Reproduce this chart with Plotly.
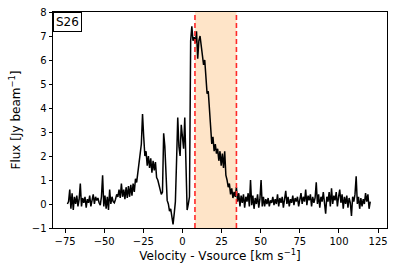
import numpy as np
import plotly.graph_objects as go

# Velocity channels (km/s)
v_start = -73.5
v_step = 0.75

# Flux values (Jy/beam)
flux_a = [0.0, 0.1, 0.6, -0.2, 0.45, -0.25, 0.3, 0.0, 0.35, -0.1,
          0.2, 0.85, -0.1, 0.25, 0.05, 0.3, -0.15, 0.2, 0.05, 0.35,
          -0.1, 0.25, 0.4, 0.0, 0.3, 0.15, 0.25, 0.05, -0.05, 0.3,
          1.2, -0.1, 0.35, -0.2, 0.3, -0.25, 0.6, 0.0, 0.3, 0.1,
          0.05, 0.2, 0.4, 0.3, 0.6, 0.25, 0.85, 0.3, 0.6, 0.2,
          0.7, 0.25, 0.75, 0.3, 0.8, 0.35, 0.85, 0.5, 1.05, 0.9]
flux_b = [1.4, 1.7, 2.1, 2.5, 3.75, 2.8, 2.0, 2.2, 1.6, 2.0,
          1.5, 1.9, 1.3, 1.8, 1.4, 1.75, 1.1, 1.0, 0.75, 0.6,
          0.4, 0.5, 2.95, 2.4, 1.2, 0.15, 0.0, -0.3, -0.2, -0.55,
          -0.85, -0.4, 0.1, 1.8, 3.6, 2.4, 2.0, 3.3, 2.6, 2.3,
          3.6, 1.0, -0.25, 0.0, 0.3]
flux_c = [6.8, 7.4, 6.8, 6.95, 6.7, 7.2, 6.05, 6.8, 7.0, 6.6,
          6.3, 5.8, 6.0, 5.2, 4.6, 4.7, 4.0, 3.2, 2.5, 2.8,
          2.2, 2.5, 2.1, 2.3, 1.8, 2.2, 1.6, 2.1, 1.5, 2.2,
          1.2, 1.0, 0.7, 0.85, 0.4, 0.65, 0.25, 0.5, 0.3, 0.7]
flux_d = [0.1, 0.45, -0.1, 0.35, 0.05, 0.4, -0.15, 0.3, 0.1, 0.45,
          -0.1, 1.0, -0.05, 0.35, -0.2, 0.25, 0.0, 0.4, -0.15, 0.2,
          1.0, -0.1, 0.3, -0.1, 0.2, 0.0, 0.25, -0.1, 0.15, 0.05,
          0.3, -0.05, 0.2, 0.0, 0.4, -0.1, 0.25, 0.05, 0.3, -0.15,
          0.2, 0.55, 0.0, 0.3, -0.1, 0.2, 0.05, 0.35, -0.05, 0.25,
          0.1, 0.3, -0.1, 0.2, 0.45, 0.0, 0.3, 0.1, 0.6, -0.05]
flux_e = [0.35, 0.15, 0.4, -0.1, 0.3, 0.05, 0.25, 0.9, 0.0, 0.4,
          -0.15, 0.3, 0.1, 0.5, -0.05, -0.4, 0.3, 0.1, 0.5, -0.1,
          0.65, 0.0, 0.35, 0.15, 0.5, -0.1, 0.3, 0.6, 0.05, 0.4,
          -0.2, 0.3, 0.0, 0.35, -0.15, 0.25, 0.05, -0.5, 0.3, 0.1,
          0.4, 1.15, 0.0, 0.3, -0.2, 0.25, -0.1, 0.2, 0.0, 0.45,
          0.1, 0.4, -0.2, 0.1]

flux = flux_a + flux_b + flux_c + flux_d + flux_e
velocity = v_start + v_step * np.arange(len(flux))

# Integration window (km/s)
win_lo = 8.0
win_hi = 34.5

label = "S26"
x_ticks = [-75, -50, -25, 0, 25, 50, 75, 100, 125]
y_ticks = [-1, 0, 1, 2, 3, 4, 5, 6, 7, 8]

fig = go.Figure()
fig.add_shape(type="rect", xref="x", yref="paper", x0=win_lo, x1=win_hi, y0=0, y1=1,
              fillcolor="rgb(254,228,200)", line_width=0, layer="below")
fig.add_trace(go.Scatter(x=velocity, y=flux, mode="lines",
                         line=dict(color="black", width=1.5), showlegend=False))
for xv in (win_lo, win_hi):
    fig.add_shape(type="line", xref="x", yref="paper", x0=xv, x1=xv, y0=0, y1=1,
                  line=dict(color="rgb(255,40,40)", width=1.6, dash="5px,3px"), layer="above")

fig.add_annotation(xref="paper", yref="paper", x=0, y=1, xanchor="left", yanchor="top",
                   text=label, showarrow=False, font=dict(size=12, color="black"),
                   bgcolor="white", bordercolor="black", borderwidth=1, borderpad=2)

axis_common = dict(showline=True, linecolor="black", linewidth=1, mirror=True,
                   ticks="outside", ticklen=3.5, tickwidth=1, tickcolor="black",
                   showgrid=False, zeroline=False, automargin=False,
                   tickfont=dict(size=10, color="black"))

fig.update_xaxes(range=[-82.7, 130.7], tickvals=x_ticks, **axis_common,
                 title=dict(text="Velocity - Vsource [km s<sup>−1</sup>]",
                            font=dict(size=12, color="black"), standoff=6))
fig.update_yaxes(range=[-1, 8], tickvals=y_ticks, **axis_common,
                 title=dict(text="Flux [Jy beam<sup>−1</sup>]",
                            font=dict(size=12, color="black"), standoff=8))

fig.update_layout(template="none", width=395, height=276,
                  margin=dict(l=53, r=8, t=12, b=48, autoexpand=False),
                  paper_bgcolor="white", plot_bgcolor="white",
                  font=dict(family="DejaVu Sans", color="black"))

# remove the page's default body margin so the figure fills the window exactly
fig.write_html("out.html", config={"displayModeBar": False},
               post_script="document.body.style.margin='0px';")
